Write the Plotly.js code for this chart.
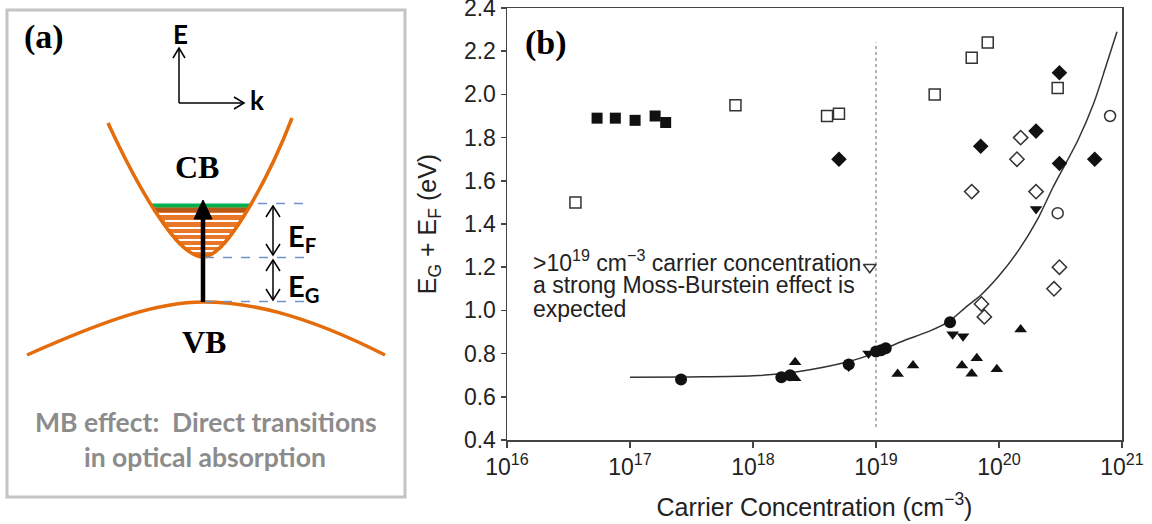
<!DOCTYPE html>
<html><head><meta charset="utf-8">
<script src="https://cdn.plot.ly/plotly-3.0.1.min.js"></script>
<style>html,body{margin:0;padding:0;background:#fff}#chart{width:1152px;height:524px}</style>
</head><body><div id="chart"></div>
<script>
// ---------- Panel (b) data ----------
const filledSquaresX = [5.4e16, 7.6e16, 1.1e17, 1.6e17, 1.95e17];
const filledSquaresY = [1.89, 1.89, 1.88, 1.90, 1.87];
const openSquaresX = [3.6e16, 7.2e17, 4.0e18, 5.0e18, 3.0e19, 6.0e19, 8.1e19, 3.0e20];
const openSquaresY = [1.50, 1.95, 1.90, 1.91, 2.00, 2.17, 2.24, 2.03];
const filledDiamondsX = [5.0e18, 7.1e19, 2.0e20, 3.1e20, 3.1e20, 6.0e20];
const filledDiamondsY = [1.70, 1.76, 1.83, 2.10, 1.68, 1.70];
const openDiamondsX = [6.0e19, 1.4e20, 1.5e20, 2.0e20, 3.1e20, 2.8e20, 7.2e19, 7.6e19];
const openDiamondsY = [1.55, 1.70, 1.80, 1.55, 1.20, 1.10, 1.03, 0.97];
const openCirclesX = [8.0e20, 3.0e20];
const openCirclesY = [1.90, 1.45];
const filledCirclesX = [2.6e17, 1.7e18, 2.0e18, 6.0e18, 1.0e19, 1.1e19, 1.2e19, 4.0e19];
const filledCirclesY = [0.68, 0.69, 0.70, 0.75, 0.81, 0.815, 0.825, 0.945];
const filledDownX = [2.0e20, 4.2e19, 5.1e19, 8.7e18, 6.0e18];
const filledDownY = [1.47, 0.89, 0.88, 0.80, 0.74];
const openDownX = [8.9e18];
const openDownY = [1.20];
const filledUpX = [2.2e18, 2.2e18, 1.5e19, 2.0e19, 5.0e19, 6.6e19, 6.0e19, 9.6e19, 1.5e20];
const filledUpY = [0.76, 0.686, 0.705, 0.745, 0.745, 0.778, 0.707, 0.727, 0.912];
const fitX = [1e17, 3e17, 1e18, 2.3e18, 5.9e18, 9.5e18, 1.6e19, 2.75e19, 3.9e19, 5.5e19, 7.1e19, 1.0e20, 1.45e20, 2.05e20, 2.75e20, 4.4e20, 5.9e20, 7.4e20, 9.1e20];
const fitY = [0.69, 0.692, 0.697, 0.716, 0.762, 0.80, 0.855, 0.905, 0.948, 1.02, 1.07, 1.16, 1.28, 1.42, 1.57, 1.79, 1.96, 2.13, 2.29];
const dividerX = [1e19, 1e19];
const dividerY = [0.46, 2.24];
const xTickVals = [1e16, 1e17, 1e18, 1e19, 1e20, 1e21];
const xTickText = ['10<sup>16</sup>', '10<sup>17</sup>', '10<sup>18</sup>', '10<sup>19</sup>', '10<sup>20</sup>', '10<sup>21</sup>'];
const yTickVals = [0.4, 0.6, 0.8, 1.0, 1.2, 1.4, 1.6, 1.8, 2.0, 2.2, 2.4];
const yTickText = ['0.4', '0.6', '0.8', '1.0', '1.2', '1.4', '1.6', '1.8', '2.0', '2.2', '2.4'];
const noteLines = ['>10<sup>19</sup> cm<sup>−3</sup> carrier concentration', 'a strong Moss-Burstein effect is', 'expected'];

const W = 1152, H = 524;
const K = '#111';
function mk(x, y, symbol, size, filled) {
  return {x, y, type: 'scatter', mode: 'markers', xaxis: 'x', yaxis: 'y', hoverinfo: 'skip',
    marker: {symbol, size, color: filled ? K : '#333', line: {color: filled ? K : '#333', width: filled ? 0 : 1.5}}};
}
const traces = [
  {x: dividerX, y: dividerY, type: 'scatter', mode: 'lines', line: {color: '#9a9a9a', width: 1.5, dash: 'dot'}, hoverinfo: 'skip'},
  {x: fitX, y: fitY, type: 'scatter', mode: 'lines', line: {color: '#333', width: 1.5, shape: 'spline', smoothing: 0.8}, hoverinfo: 'skip'},
  mk(filledSquaresX, filledSquaresY, 'square', 11, true),
  mk(openSquaresX, openSquaresY, 'square-open', 11, false),
  mk(filledDiamondsX, filledDiamondsY, 'diamond', 12, true),
  mk(openDiamondsX, openDiamondsY, 'diamond-open', 11, false),
  mk(openCirclesX, openCirclesY, 'circle-open', 11, false),
  mk(filledDownX, filledDownY, 'triangle-down', 11, true),
  mk(openDownX, openDownY, 'triangle-down-open', 11, false),
  mk(filledUpX, filledUpY, 'triangle-up', 11, true),
  mk(filledCirclesX, filledCirclesY, 'circle', 12, true),
  {x: [], y: [], xaxis: 'x2', yaxis: 'y2', type: 'scatter', hoverinfo: 'skip'}
];

// ---------- Panel (a) schematic (pixel coordinates on hidden axis) ----------
const OR = '#e46c0a';
function ln(x0, y0, x1, y1, color, width, dash) {
  return {type: 'line', xref: 'x2', yref: 'y2', x0, y0, x1, y1, line: {color, width, dash: dash || 'solid'}};
}
function pth(path, color, width, fill) {
  return {type: 'path', xref: 'x2', yref: 'y2', path, line: {color: color || 'rgba(0,0,0,0)', width: width || 0}, fillcolor: fill || 'rgba(0,0,0,0)'};
}
const stripes = [[214, 158, 250], [221, 165, 246], [228, 168, 242], [234, 172, 238], [240, 175, 234], [246, 180, 229], [251, 186, 221]];
const shapes = [
  {type: 'rect', xref: 'x2', yref: 'y2', x0: 7, y0: 10, x1: 405, y1: 497, line: {color: '#c4c4c4', width: 3}},
  pth('M152,205 C160,222 180,257 203,257 C226,257 240,222 249,205 Z', null, 0, '#e9772a'),
  ln(153, 210, 248, 210, '#b5581a', 4),
  ...stripes.map(s => ln(s[1], s[0], s[2], s[0], '#ffffff', 2)),
  ln(151, 205.5, 250, 205.5, '#00b050', 4),
  pth('M108,123 C132,175 175,257 203,257 C228,257 272,170 292,118', OR, 3.5),
  pth('M27,355 C110,318 160,302 203,302 C246,302 300,312 385,355', OR, 3.5),
  ln(203, 302, 203, 214, '#000', 4.5),
  pth('M194,219 L203,200 L212,219 Z', '#000', 1, '#000'),
  ln(258, 203.5, 307, 203.5, '#6f93c8', 1.5, 'dash'),
  ln(205, 257.5, 307, 257.5, '#6f93c8', 1.5, 'dash'),
  ln(205, 301.5, 307, 301.5, '#6f93c8', 1.5, 'dash'),
  ln(273, 206, 273, 255, '#000', 1.5),
  pth('M266,217 L273,206 L280,217', '#000', 1.5),
  pth('M266,244 L273,255 L280,244', '#000', 1.5),
  ln(273, 260, 273, 300, '#000', 1.5),
  pth('M266,271 L273,260 L280,271', '#000', 1.5),
  pth('M266,289 L273,300 L280,289', '#000', 1.5),
  ln(179, 103, 179, 48, '#000', 1.5),
  pth('M173,58 L179,48 L185,58', '#000', 1.5),
  ln(179, 103, 244, 103, '#000', 1.5),
  pth('M234,97 L244,103 L234,109', '#000', 1.5)
];

function ann(text, x, y, font, xanchor) {
  return {text, x, y, xref: 'x2', yref: 'y2', showarrow: false, xanchor: xanchor || 'center', yanchor: 'middle', font};
}
const serifB = (size) => ({family: 'Liberation Serif, Times New Roman, serif', size, color: '#000', weight: 'bold'});
const calB = (size, color) => ({family: 'Lato, Open Sans, sans-serif', size, color, weight: 'bold'});
const helv = {family: 'Liberation Sans, Arial, sans-serif', size: 23, color: '#222'};
const annotations = [
  ann('(a)', 44, 37, serifB(34)),
  ann('(b)', 546, 43, serifB(34)),
  ann('CB', 197, 167, serifB(32)),
  ann('VB', 204, 342, serifB(32)),
  ann('E', 180, 34, calB(26, '#000')),
  ann('k', 257, 100, calB(26, '#000')),
  ann('E<sub>F</sub>', 286, 237, calB(29, '#000'), 'left'),
  ann('E<sub>G</sub>', 286, 287, calB(29, '#000'), 'left'),
  ann('MB effect:  Direct transitions', 206, 422, calB(26.5, '#8c8c8c')),
  ann('in optical absorption', 205, 457, calB(26.5, '#8c8c8c')),
  ann(noteLines[0], 531, 261, helv, 'left'),
  ann(noteLines[1], 531, 285, helv, 'left'),
  ann(noteLines[2], 531, 309, helv, 'left')
];

const axisCommon = {showline: true, linecolor: '#444', linewidth: 1.5, mirror: true, showgrid: false, zeroline: false,
  ticks: 'outside', ticklen: 6, tickwidth: 1.5, tickcolor: '#444', tickfont: {size: 23, color: '#222'},
  ticklabeloverflow: 'allow', fixedrange: true};
const layout = {
  width: W, height: H, margin: {l: 0, r: 0, t: 0, b: 0}, paper_bgcolor: '#fff', plot_bgcolor: 'rgba(0,0,0,0)',
  showlegend: false, hovermode: false,
  font: {family: 'Liberation Sans, Arial, sans-serif', color: '#222'},
  xaxis: Object.assign({}, axisCommon, {type: 'log', domain: [507 / W, 1122 / W], range: [16, 21], anchor: 'y',
    tickmode: 'array', tickvals: xTickVals, ticktext: xTickText,
    title: {text: 'Carrier Concentration (cm<sup>−3</sup>)', font: {size: 25, color: '#222'}, standoff: 19}}),
  yaxis: Object.assign({}, axisCommon, {domain: [1 - 440 / H, 1 - 8 / H], range: [0.4, 2.4], anchor: 'x',
    tickmode: 'array', tickvals: yTickVals, ticktext: yTickText, ticklen: 5,
    title: {text: 'E<sub>G</sub> + E<sub>F</sub> (eV)', font: {size: 25, color: '#222'}, standoff: 20}}),
  xaxis2: {domain: [0, 1], range: [0, W], visible: false, anchor: 'y2', fixedrange: true},
  yaxis2: {domain: [0, 1], range: [H, 0], visible: false, anchor: 'x2', fixedrange: true},
  shapes, annotations
};
Plotly.newPlot('chart', traces, layout, {staticPlot: true, displayModeBar: false});
</script>
</body></html>
